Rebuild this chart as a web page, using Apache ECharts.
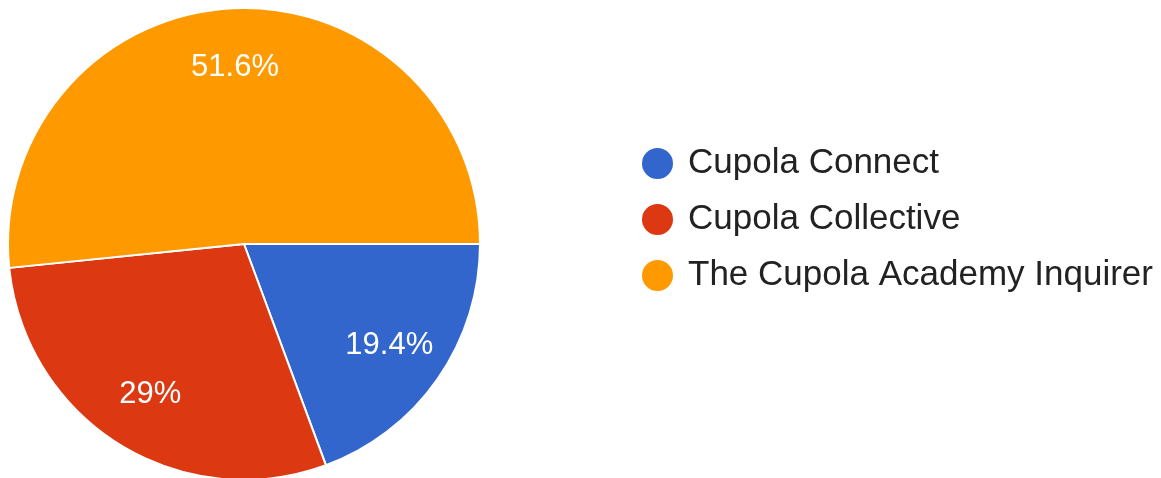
<!DOCTYPE html>
<html>
<head>
<meta charset="utf-8">
<script src="https://cdn.jsdelivr.net/npm/echarts@6/dist/echarts.min.js"></script>
<style>
html,body{margin:0;padding:0;background:#fff;}
#chart{width:1161px;height:478px;}
</style>
</head>
<body>
<div id="chart"></div>
<script>
const categories = ["Cupola Connect", "Cupola Collective", "The Cupola Academy Inquirer"];
const values = [6, 9, 16];
const colors = ["#3366CC", "#DC3912", "#FF9900"];

const chart = echarts.init(document.getElementById('chart'), null, {renderer: 'canvas'});
const data = categories.map((c, i) => ({name: c, value: values[i], itemStyle: {color: colors[i]}}));
const fmt = p => {
  const v = Math.round(p.percent * 10) / 10;
  return v + '%';
};
chart.setOption({
  animation: false,
  legend: {
    orient: 'vertical',
    left: 640,
    top: 146,
    padding: 0,
    icon: 'circle',
    itemWidth: 33,
    itemHeight: 33,
    itemGap: 21,
    textStyle: {fontFamily: 'Liberation Sans, Arial, sans-serif', fontSize: 35, color: '#222222', padding: [0, 0, 0, 9], lineHeight: 32},
    data: categories
  },
  series: [
    {
      type: 'pie',
      center: [244, 244],
      radius: [0, 236],
      startAngle: 0,
      clockwise: true,
      avoidLabelOverlap: false,
      label: {show: false},
      labelLine: {show: false},
      itemStyle: {borderColor: '#ffffff', borderWidth: 2},
      emphasis: {disabled: true},
      data: data
    },
    {
      type: 'pie',
      center: [244, 244],
      radius: [112, 236],
      startAngle: 0,
      clockwise: true,
      silent: true,
      avoidLabelOverlap: false,
      label: {
        show: true,
        position: 'inside',
        formatter: fmt,
        color: '#ffffff',
        fontFamily: 'Liberation Sans, Arial, sans-serif',
        fontSize: 31
      },
      labelLine: {show: false},
      itemStyle: {color: 'rgba(0,0,0,0)', borderWidth: 0},
      emphasis: {disabled: true},
      legendHoverLink: false,
      data: categories.map((c, i) => ({name: c, value: values[i]}))
    }
  ]
});
</script>
</body>
</html>
